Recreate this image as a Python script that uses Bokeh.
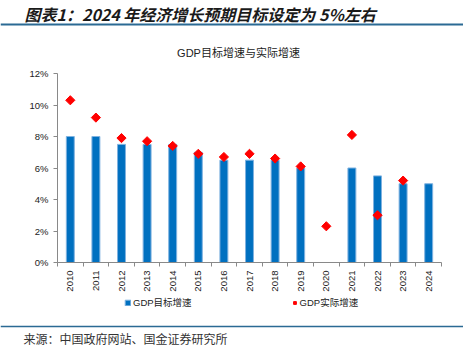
import math
from bokeh.plotting import figure
from bokeh.models import ColumnDataSource, FixedTicker, Label, Legend, LegendItem, Range1d, Span
from bokeh.layouts import column, row
from bokeh.embed import file_html
from bokeh.resources import INLINE

NAN = float("nan")
years = ["2010", "2011", "2012", "2013", "2014", "2015", "2016", "2017",
         "2018", "2019", "2020", "2021", "2022", "2023", "2024"]
target = [8, 8, 7.5, 7.5, 7.5, 7, 6.5, 6.5, 6.5, 6, NAN, 6, 5.5, 5, 5]
actual = [10.3, 9.2, 7.9, 7.7, 7.4, 6.9, 6.7, 6.9, 6.6, 6.1, 2.3, 8.1, 3.0, 5.2, NAN]
y_ticks = [0, 2, 4, 6, 8, 10, 12]

header_text = "图表1：2024 年经济增长预期目标设定为 5%左右"
chart_title = "GDP目标增速与实际增速"
source_text = "来源：中国政府网站、国金证券研究所"
name_target = "GDP目标增速"
name_actual = "GDP实际增速"

W = 463
LINE_COLOR = "#2B6A94"
CJK = "Liberation Sans, Noto Sans CJK SC"
BAR_FILL = "#0070C0"
BAR_EDGE = "#7FB2E0"
PT_COLOR = "#FF0000"


def blank(height):
    f = figure(width=W, height=height, x_range=Range1d(0, W), y_range=Range1d(0, height),
               output_backend="svg", toolbar_location=None, min_border=0)
    f.axis.visible = False
    f.grid.visible = False
    f.outline_line_color = None
    return f


# ---------- header (page y 0..62) ----------
HH = 62
hdr = blank(HH)
hdr.add_layout(Label(x=24, y=HH - 13, text=header_text, text_font="Noto Sans CJK SC",
                     text_font_size="16px", text_font_style="bold italic",
                     text_color="#1a1a1a", text_baseline="middle", text_align="left"))
hdr.add_layout(Label(x=238, y=HH - 52, text=chart_title, text_font=CJK,
                     text_font_size="11px", text_color="#222222",
                     text_align="center", text_baseline="middle"))
hdr.add_layout(Span(location=HH - 24, dimension="width", line_color=LINE_COLOR, line_width=2))

# ---------- main (page y 62..295) ----------
xs = [i + 0.5 for i in range(len(years))]
src = ColumnDataSource(dict(x=xs, target=target, actual=actual))

p = figure(width=W, height=233, x_range=Range1d(0, len(years)), y_range=Range1d(0, 12),
           output_backend="svg", toolbar_location=None,
           min_border_left=57, min_border_right=22, min_border_top=11, min_border_bottom=33)
p.grid.visible = False
p.outline_line_color = None

bars = p.vbar(x="x", top="target", width=0.31, source=src, fill_color=BAR_FILL,
              line_color=BAR_EDGE, line_width=1)
pts = p.scatter(x="x", y="actual", source=src, marker="square", angle=math.pi / 4,
                size=6.5, fill_color=PT_COLOR, line_color=PT_COLOR)

ax = p.xaxis[0]
ax.ticker = FixedTicker(ticks=xs, minor_ticks=list(range(len(years) + 1)))
ax.major_label_overrides = {x: y for x, y in zip(xs, years)}
ax.major_tick_out = 0
ax.major_tick_in = 0
ax.minor_tick_out = 4
ax.minor_tick_in = 0
ax.minor_tick_line_color = "#898989"
ax.axis_line_color = "#898989"
ax.major_label_orientation = math.pi / 2
ax.major_label_text_font = "Liberation Sans"
ax.major_label_text_font_size = "9.5px"
ax.major_label_text_color = "#222222"
ax.major_label_standoff = 4

ay = p.yaxis[0]
ay.ticker = FixedTicker(ticks=y_ticks)
ay.major_label_overrides = {t: f"{t}%" for t in y_ticks}
ay.major_tick_out = 4
ay.major_tick_in = 0
ay.minor_tick_line_color = None
ay.axis_line_color = "#898989"
ay.major_tick_line_color = "#898989"
ay.major_label_text_font = "Liberation Sans"
ay.major_label_text_font_size = "9.5px"
ay.major_label_text_color = "#222222"
ay.major_label_standoff = 5

# ---------- footer (page y 295..354) ----------
FH = 59
ftr = blank(FH)
proxy = ColumnDataSource(dict(x=[-50], y=[-50]))
lg_bar = ftr.vbar(x="x", top="y", width=1, source=proxy, fill_color=BAR_FILL, line_color=BAR_EDGE)
lg_pt = ftr.scatter(x="x", y="y", source=proxy, marker="square", angle=math.pi / 4, size=6.5,
                    fill_color=PT_COLOR, line_color=PT_COLOR)
legend = Legend(items=[LegendItem(label=name_target, renderers=[lg_bar]),
                       LegendItem(label=name_actual, renderers=[lg_pt])],
                location=(124, FH - 9 - 5), orientation="horizontal", spacing=99,
                padding=0, margin=0, border_line_color=None, background_fill_alpha=0,
                glyph_width=7, glyph_height=7, label_standoff=2,
                label_text_font=CJK, label_text_font_size="9.5px",
                label_text_color="#222222", label_height=10)
ftr.add_layout(legend, "center")
ftr.add_layout(Span(location=FH - 31, dimension="width", line_color=LINE_COLOR, line_width=1.5))
ftr.add_layout(Label(x=23, y=FH - 43, text=source_text, text_font="Noto Sans CJK SC",
                     text_font_size="12px", text_color="#333333", text_baseline="middle"))

layout = column(hdr, row(p), ftr, spacing=0)
open("out.html", "w").write(file_html(layout, INLINE))
